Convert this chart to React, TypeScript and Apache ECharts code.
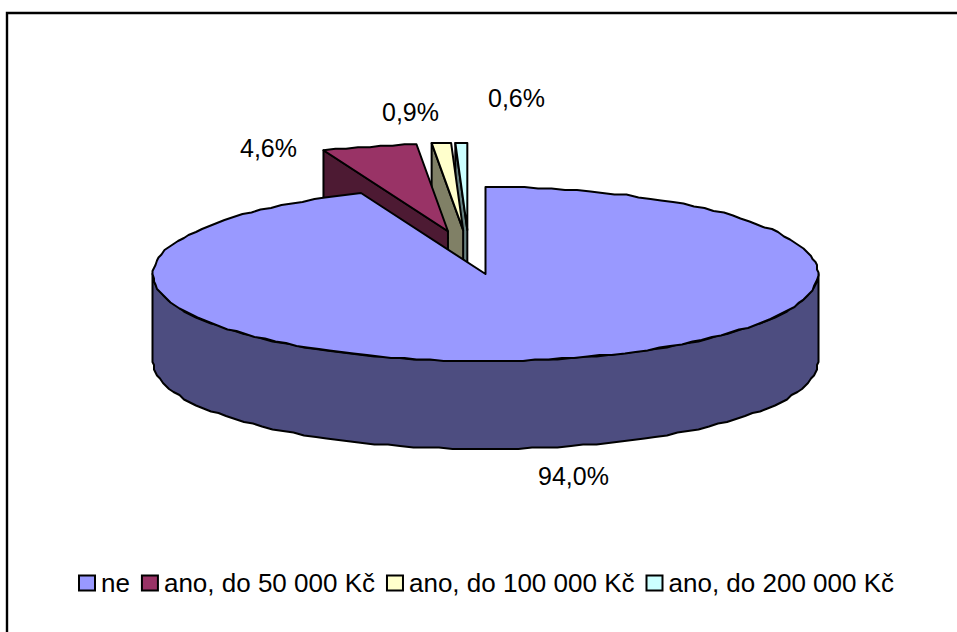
import React, { useEffect, useRef } from "react";
import * as echarts from "echarts";

// Survey answers and their shares, in percent
const categories = ["ne", "ano, do 50 000 Kč", "ano, do 100 000 Kč", "ano, do 200 000 Kč"];
const shares = [94.0, 4.6, 0.9, 0.6];
const topColors = ["#9999FF", "#993366", "#FFFFCC", "#CCFFFF"];
const wallColors = ["#4D4D80", "#4D1A33", "#808066", "#668080"];
const explodedFlags = [false, true, true, true];
const labelCentres = [
  [573.5, 476],
  [268.5, 147.5],
  [410.5, 112],
  [516.5, 98],
];

const WIDTH = 957;
const HEIGHT = 632;
const CX = 485.5;
const CY = 274;
const RX = 332.5;
const RY = 87;
const DEPTH = 88;
const FONT = "'Liberation Sans', Arial, sans-serif";
const OUTLINE = { stroke: "#000", lineWidth: 2, lineJoin: "round" as const };
// The rim is drawn on a coarse pixel grid, which gives it its stepped outline
const RIM_STEP = 0.04;
const RIM_GRID = 1.5;

const total = shares.reduce((a, b) => a + b, 0);
const starts = shares.map((_, i) => shares.slice(0, i).reduce((a, b) => a + b, 0));
const toAngle = (v: number) => (v / total) * 2 * Math.PI;
const snap = (v: number) => Math.round(v / RIM_GRID) * RIM_GRID;

// Walks the rim of an ellipse clockwise from the 12 o'clock position
function rim(ax: number, ay: number, from: number, to: number, drop = 0) {
  const n = Math.max(1, Math.ceil(Math.abs(to - from) / RIM_STEP));
  const out: number[][] = [];
  for (let k = 0; k <= n; k++) {
    const t = from + ((to - from) * k) / n;
    const dx = RX * Math.sin(t);
    const dy = -RY * Math.cos(t);
    out.push([ax + snap(dx), ay + snap(dy) + drop]);
  }
  return out;
}

function renderSlice(index: number) {
  const a0 = toAngle(starts[index]);
  const a1 = toAngle(starts[index] + shares[index]);
  const mid = (a0 + a1) / 2;
  // Pulled-out slices move up and along a slightly left-leaning direction
  const ax = explodedFlags[index] ? CX + 89 * Math.sin(mid) - 16.5 : CX;
  const ay = explodedFlags[index] ? CY - 44 * Math.cos(mid) : CY;
  const base = index === 0 ? 10 : 0;
  const children: any[] = [];

  // Cut face seen through the gap on the start edge of each pulled-out slice
  if (explodedFlags[index]) {
    const p = rim(ax, ay, a0, a0)[0];
    children.push({
      type: "polygon",
      z2: base + 1,
      shape: { points: [p, [ax, ay], [ax, ay + DEPTH], [p[0], p[1] + DEPTH]] },
      style: { fill: wallColors[index], ...OUTLINE },
    });
  }

  // Outer wall: only the front half of the rim faces the viewer
  const wallFrom = Math.max(a0, Math.PI / 2);
  const wallTo = Math.min(a1, (3 * Math.PI) / 2);
  if (wallTo > wallFrom) {
    const upper = rim(ax, ay, wallFrom, wallTo);
    const lower = rim(ax, ay, wallTo, wallFrom, DEPTH);
    children.push({
      type: "polygon",
      z2: base + 2,
      shape: { points: [...upper, ...lower] },
      style: { fill: wallColors[index], ...OUTLINE },
    });
  }

  // Top face
  children.push({
    type: "polygon",
    z2: base + 3,
    shape: { points: [[ax, ay], ...rim(ax, ay, a0, a1)] },
    style: { fill: topColors[index], ...OUTLINE },
  });

  // Percentage label with a decimal comma
  const [lx, ly] = labelCentres[index];
  children.push({
    type: "text",
    z2: 20,
    style: {
      x: lx,
      y: ly,
      text: shares[index].toFixed(1).replace(".", ",") + "%",
      fill: "#000",
      font: `25px ${FONT}`,
      align: "center",
      verticalAlign: "middle",
    },
  });

  return { type: "group", children };
}

export default function App() {
  const ref = useRef<HTMLDivElement>(null);

  useEffect(() => {
    const chart = echarts.init(ref.current!, undefined, { renderer: "svg" });
    chart.setOption({
      animation: false,
      backgroundColor: "#fff",
      legend: {
        left: 78,
        top: 570,
        padding: 0,
        itemWidth: 16,
        itemHeight: 15,
        itemGap: 11,
        icon: "rect",
        data: categories,
        selectedMode: false,
        textStyle: { fontFamily: FONT, fontSize: 26, color: "#000", padding: [0, 0, 0, 1] },
        itemStyle: { borderColor: "#000", borderWidth: 2 },
      },
      graphic: [
        {
          type: "polyline",
          silent: true,
          shape: { points: [[7, HEIGHT], [7, 13], [WIDTH, 13]] },
          style: { fill: "none", stroke: "#000", lineWidth: 2.4 },
        },
      ],
      // Paint order runs from the smallest pulled-out slice up to the main slice
      series: categories.map((name, i) => ({
        type: "custom",
        name,
        coordinateSystem: "none",
        silent: true,
        z: i === 0 ? 9 : 5 - i,
        itemStyle: { color: topColors[i] },
        data: [shares[i]],
        renderItem: () => renderSlice(i),
      })),
    });
    return () => chart.dispose();
  }, []);

  return (
    <div
      ref={ref}
      style={{ position: "absolute", left: 0, top: 0, width: WIDTH, height: HEIGHT }}
    />
  );
}
